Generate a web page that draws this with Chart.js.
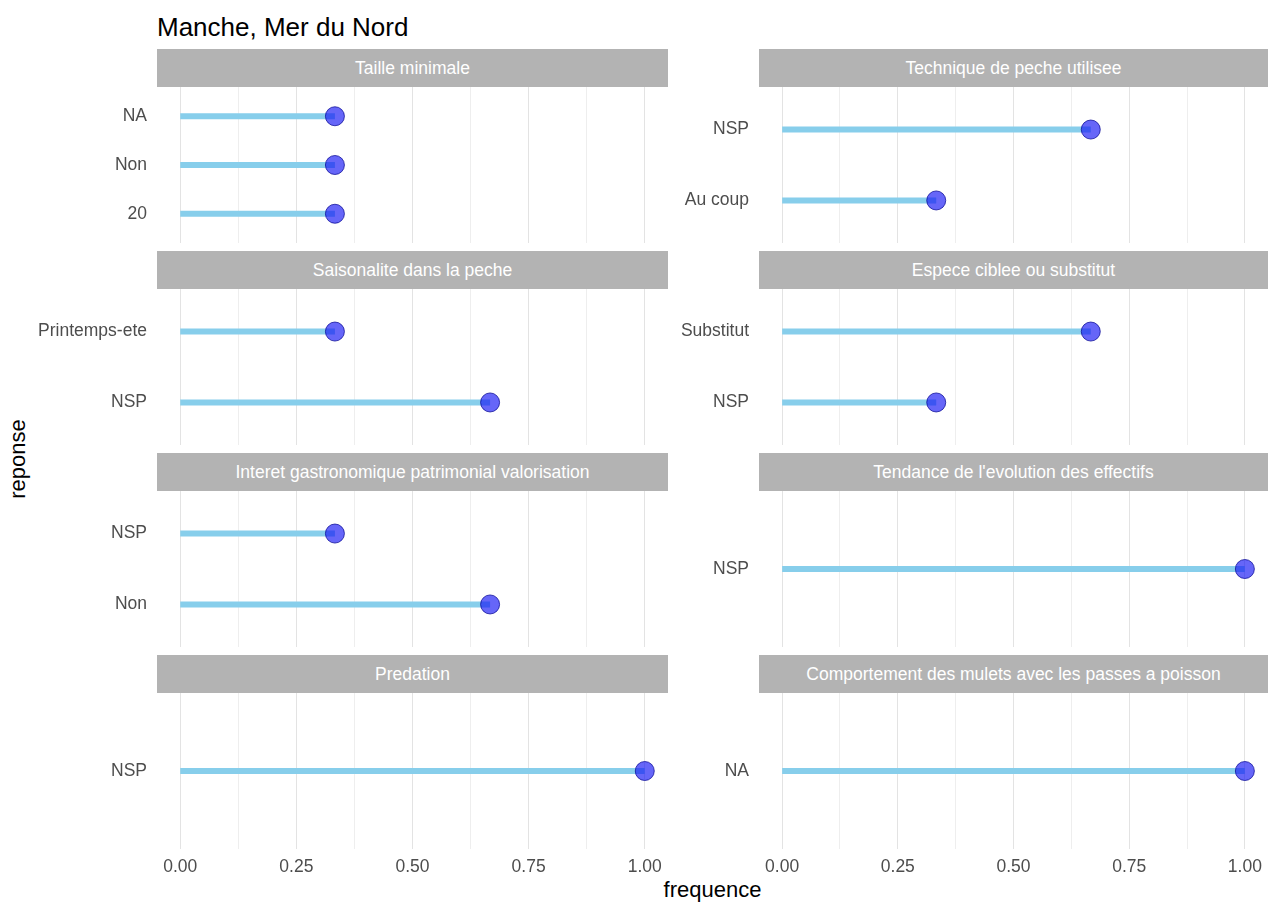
<!DOCTYPE html>
<html>
<head>
<meta charset="utf-8">
<script src="https://cdn.jsdelivr.net/npm/chart.js"></script>
<style>
body { margin: 0; background: #fff; font-family: "Liberation Sans", Arial, sans-serif; }
#wrap { position: relative; width: 1275px; height: 902px; overflow: hidden; }
.strip { position: absolute; background: #b3b3b3; color: #fff; font-size: 17.5px; text-align: center; height: 38px; line-height: 38px; white-space: nowrap; }
canvas { position: absolute; }
#title { position: absolute; left: 157px; top: 12px; font-size: 26px; line-height: 30px; color: #000; }
#xlab { position: absolute; left: 157px; width: 1111px; top: 878px; text-align: center; font-size: 22px; line-height: 24px; color: #000; }
#ylab { position: absolute; left: -82px; top: 447px; width: 200px; height: 24px; line-height: 24px; text-align: center; font-size: 22px; color: #000; transform: rotate(-90deg); }
</style>
</head>
<body>
<div id="wrap">
  <div id="title">Manche, Mer du Nord</div>
  <div id="xlab">frequence</div>
  <div id="ylab">reponse</div>
</div>

<script>
// one facet per question, 2 columns x 4 rows
const facets = [
  "Taille minimale",
  "Technique de peche utilisee",
  "Saisonalite dans la peche",
  "Espece ciblee ou substitut",
  "Interet gastronomique patrimonial valorisation",
  "Tendance de l'evolution des effectifs",
  "Predation",
  "Comportement des mulets avec les passes a poisson"
];

// responses listed bottom to top
const reponses = [
  ["20", "Non", "NA"],
  ["Au coup", "NSP"],
  ["NSP", "Printemps-ete"],
  ["NSP", "Substitut"],
  ["Non", "NSP"],
  ["NSP"],
  ["NSP"],
  ["NA"]
];

const frequences = [
  [0.333, 0.333, 0.333],
  [0.333, 0.667],
  [0.667, 0.333],
  [0.333, 0.667],
  [0.667, 0.333],
  [1.0],
  [1.0],
  [1.0]
];

const xTickLabels = [0, 0.25, 0.5, 0.75, 1];
const xGridValues = [0, 0.125, 0.25, 0.375, 0.5, 0.625, 0.75, 0.875, 1];

const wrap = document.getElementById("wrap");
const tickFont = { family: "'Liberation Sans', Arial, sans-serif", size: 17.5 };

facets.forEach((name, k) => {
  const col = k % 2, row = Math.floor(k / 2);
  const bottom = row === 3;
  const stripLeft = col === 0 ? 157 : 759;
  const stripRight = col === 0 ? 668 : 1268;
  const stripTop = 49 + 202 * row;

  const strip = document.createElement("div");
  strip.className = "strip";
  strip.style.left = stripLeft + "px";
  strip.style.width = (stripRight - stripLeft) + "px";
  strip.style.top = stripTop + "px";
  strip.textContent = name;
  wrap.appendChild(strip);

  const canvasLeft = col === 0 ? 0 : 668;
  const axisW = stripLeft - canvasLeft;
  const canvas = document.createElement("canvas");
  canvas.width = stripRight - canvasLeft;
  canvas.height = 156 + (bottom ? 32 : 0);
  canvas.style.left = canvasLeft + "px";
  canvas.style.top = (stripTop + 38) + "px";
  wrap.appendChild(canvas);

  const labels = reponses[k];
  const vals = frequences[k];

  const datasets = [{
    data: vals.map((v, i) => ({ x: v, y: i + 1 })),
    pointRadius: 9.5,
    pointBackgroundColor: "rgba(20,20,245,0.65)",
    pointBorderColor: "rgba(10,10,150,0.75)",
    pointBorderWidth: 1,
    showLine: false,
    order: 0
  }];
  vals.forEach((v, i) => {
    datasets.push({
      data: [{ x: 0, y: i + 1 }, { x: v, y: i + 1 }],
      showLine: true,
      borderColor: "#87CEEB",
      borderWidth: 6,
      borderCapStyle: "butt",
      pointRadius: 0,
      order: 1
    });
  });

  new Chart(canvas, {
    type: "scatter",
    data: { datasets },
    options: {
      responsive: false,
      animation: false,
      layout: { padding: 0, autoPadding: false },
      plugins: { legend: { display: false }, tooltip: { enabled: false } },
      scales: {
        x: {
          type: "linear",
          min: -0.05,
          max: 1.05,
          afterBuildTicks: s => { s.ticks = xGridValues.map(v => ({ value: v })); },
          afterFit: s => {
            s.height = bottom ? 32 : 0;
            s.paddingLeft = 0; s.paddingRight = 0;
          },
          ticks: {
            display: bottom,
            autoSkip: false,
            maxRotation: 0,
            padding: 8,
            font: tickFont,
            color: "#4d4d4d",
            callback: v => xTickLabels.includes(v) ? v.toFixed(2) : ""
          },
          grid: {
            drawTicks: false,
            lineWidth: 1,
            color: c => (c.tick && xTickLabels.includes(c.tick.value)) ? "#e3e3e3" : "#eeeeee"
          },
          border: { display: false }
        },
        y: {
          type: "linear",
          min: 0.4,
          max: labels.length + 0.6,
          afterBuildTicks: s => { s.ticks = labels.map((_, i) => ({ value: i + 1 })); },
          afterFit: s => {
            s.width = axisW;
            s.paddingTop = 0; s.paddingBottom = 0;
          },
          ticks: {
            autoSkip: false,
            padding: 10,
            font: tickFont,
            color: "#4d4d4d",
            callback: v => labels[v - 1]
          },
          grid: { display: false, drawTicks: false },
          border: { display: false }
        }
      }
    }
  });
});
</script>
</body>
</html>
